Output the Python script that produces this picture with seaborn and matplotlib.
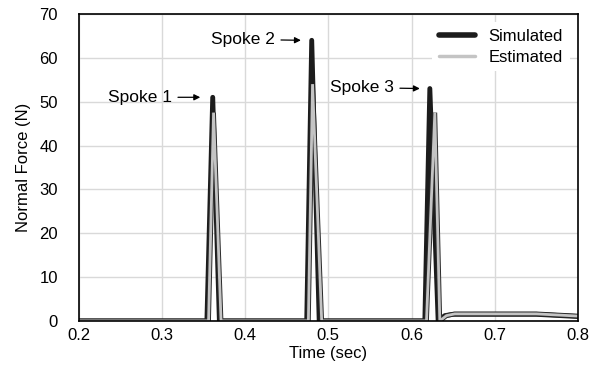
import numpy as np
import pandas as pd
import matplotlib
matplotlib.use("Agg")
import matplotlib.pyplot as plt
import matplotlib.patheffects as pe
import seaborn as sns

# Values
sim_t = [0.200, 0.354, 0.361, 0.369, 0.474, 0.480, 0.489, 0.616, 0.622, 0.632, 0.640, 0.650, 0.750, 0.800]
sim_f = [0.0, 0.0, 51.0, 0.0, 0.0, 64.0, 0.0, 0.0, 53.0, 0.0, 1.2, 1.5, 1.5, 1.0]
est_t = [0.200, 0.356, 0.362, 0.371, 0.476, 0.481, 0.492, 0.618, 0.628, 0.634, 0.642, 0.652, 0.750, 0.800]
est_f = [0.0, 0.0, 47.5, 0.0, 0.0, 54.0, 0.0, 0.0, 47.5, 0.0, 1.2, 1.6, 1.6, 1.1]

x_ticks = [0.2, 0.3, 0.4, 0.5, 0.6, 0.7, 0.8]
y_ticks = [0, 10, 20, 30, 40, 50, 60, 70]

sns.set_theme(style="whitegrid")
plt.rcParams['font.family'] = ['Liberation Sans', 'DejaVu Sans']
plt.rcParams['text.color'] = 'black'
plt.rcParams['axes.labelcolor'] = 'black'

sim_df = pd.DataFrame({'Time': sim_t, 'Force': sim_f})
est_df = pd.DataFrame({'Time': est_t, 'Force': est_f})

fig = plt.figure(figsize=(5.97, 3.68), dpi=100)
ax = fig.add_axes([0.132, 0.128, 0.836, 0.834])

sns.lineplot(data=sim_df, x='Time', y='Force', ax=ax, color='#1c1c1c', lw=3.5,
             label='Simulated', solid_capstyle='round', solid_joinstyle='round')
sns.lineplot(data=est_df, x='Time', y='Force', ax=ax, color='#c4c4c4', lw=2.0,
             label='Estimated', solid_joinstyle='miter')
# dark outline around the estimated trace
ax.lines[1].set_path_effects([pe.Stroke(linewidth=3.4, foreground='#2a2a2a'), pe.Normal()])

ax.set_xlim(0.2, 0.8)
ax.set_ylim(0, 70)
ax.set_xticks(x_ticks)
ax.set_yticks(y_ticks)
ax.set_xticklabels([f'{v:.1f}' for v in x_ticks])
ax.grid(True, color='#d9d9d9', lw=1.0)
for s in ax.spines.values():
    s.set_color('black')
    s.set_linewidth(1.2)
ax.tick_params(axis='both', labelsize=12, length=0, colors='black')
ax.tick_params(axis='y', pad=15)
ax.tick_params(axis='x', pad=5)
ax.set_xlabel('Time (sec)', fontsize=12, labelpad=2)
ax.set_ylabel('Normal Force (N)', fontsize=12, labelpad=6)

arrow = dict(arrowstyle='-|>', color='black', lw=0.9, mutation_scale=9,
             shrinkA=2, shrinkB=0)
ax.annotate('Spoke 1', xy=(0.346, 51), xytext=(0.235, 51), fontsize=12.5,
            va='center', ha='left', arrowprops=arrow)
ax.annotate('Spoke 2', xy=(0.467, 64), xytext=(0.359, 64.2), fontsize=12.5,
            va='center', ha='left', arrowprops=arrow)
ax.annotate('Spoke 3', xy=(0.610, 53), xytext=(0.502, 53.2), fontsize=12.5,
            va='center', ha='left', arrowprops=arrow)

leg = ax.legend(loc='upper right', frameon=True, fontsize=12, handlelength=2.2,
                borderaxespad=0.5, labelspacing=0.35, handletextpad=0.8)
leg.get_frame().set_facecolor('white')
leg.get_frame().set_edgecolor('none')
leg.get_frame().set_alpha(1.0)
leg.get_lines()[0].set_linewidth(4.0)
leg.get_lines()[1].set_path_effects([])
leg.get_lines()[1].set_linewidth(2.5)

fig.savefig('out.png', dpi=100)
